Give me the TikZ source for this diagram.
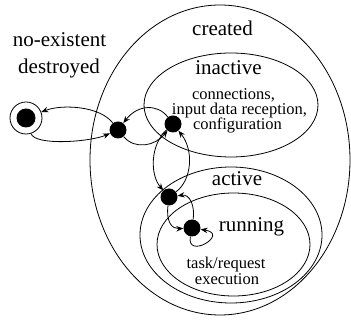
\documentclass[tikz,border=0pt]{standalone}
\usepackage{fontspec}
\setmainfont{Liberation Serif}
\usetikzlibrary{arrows.meta}
\begin{document}
\begin{tikzpicture}[x=1pt,y=-1pt,
  region/.style={line width=0.8pt},
  dot/.style={circle,fill=black,inner sep=0pt,minimum size=17pt},
  trans/.style={line width=0.8pt,-{Stealth[length=7pt,width=5.5pt]}},
  big/.style={font=\fontsize{21}{24}\selectfont,anchor=base,inner sep=0pt},
  small/.style={font=\fontsize{16.5}{18}\selectfont,anchor=base,inner sep=0pt}]
\useasboundingbox (0,0) rectangle (351,320);
% regions
\draw[region] (220,160) ellipse (130 and 155);
\draw[region] (231,105) ellipse (87 and 52);
\draw[region] (231,235) ellipse (91 and 68);
\draw[region] (233.5,244.5) ellipse (76.5 and 51.5);
% final state
\node[circle,draw,line width=0.8pt,minimum size=32pt,inner sep=0pt] (final) at (26,118) {};
\node[circle,fill=black,minimum size=19pt,inner sep=0pt] (finaldot) at (26,118) {};
% pseudo states
\node[dot] (d1) at (118,130) {};
\node[dot] (d2) at (173,124) {};
\node[dot] (d3) at (169,197) {};
\node[dot] (d4) at (192,228) {};
% transitions
\draw[trans] (d1) .. controls (100,106) and (62,104) .. (final);
\draw[trans] (final) .. controls (35,146) and (90,142) .. (d1);
\draw[trans] (d2) .. controls (158,104) and (138,104) .. (d1);
\draw[trans] (d1) .. controls (135,150) and (155,146) .. (d2);
\draw[trans] (d2) .. controls (150,145) and (150,175) .. (d3);
\draw[trans] (d3) .. controls (192,180) and (194,150) .. (d2);
\draw[trans] (d3) .. controls (166,222) and (172,229) .. (d4);
\draw[trans] (d4) .. controls (195,206) and (190,194) .. (d3);
\draw[trans] (d4) .. controls (186,260) and (230,234) .. (d4);
% labels
\node[big] (nonex) at (59.5,46.5) {no-existent};
\node[big] (destr) at (59,74) {destroyed};
\node[big] (created) at (222.5,36) {created};
\node[big] (inactive) at (228.5,75) {inactive};
\node[small] (inl1) at (233.5,100) {connections,};
\node[small] (inl2) at (239.5,115) {input data reception,};
\node[small] (inl3) at (237.5,130) {configuration};
\node[big] (active) at (237,186) {active};
\node[big] (running) at (251.5,232) {running};
\node[small] (rul1) at (226,269) {task/request};
\node[small] (rul2) at (227,284.5) {execution};
\end{tikzpicture}
\end{document}
